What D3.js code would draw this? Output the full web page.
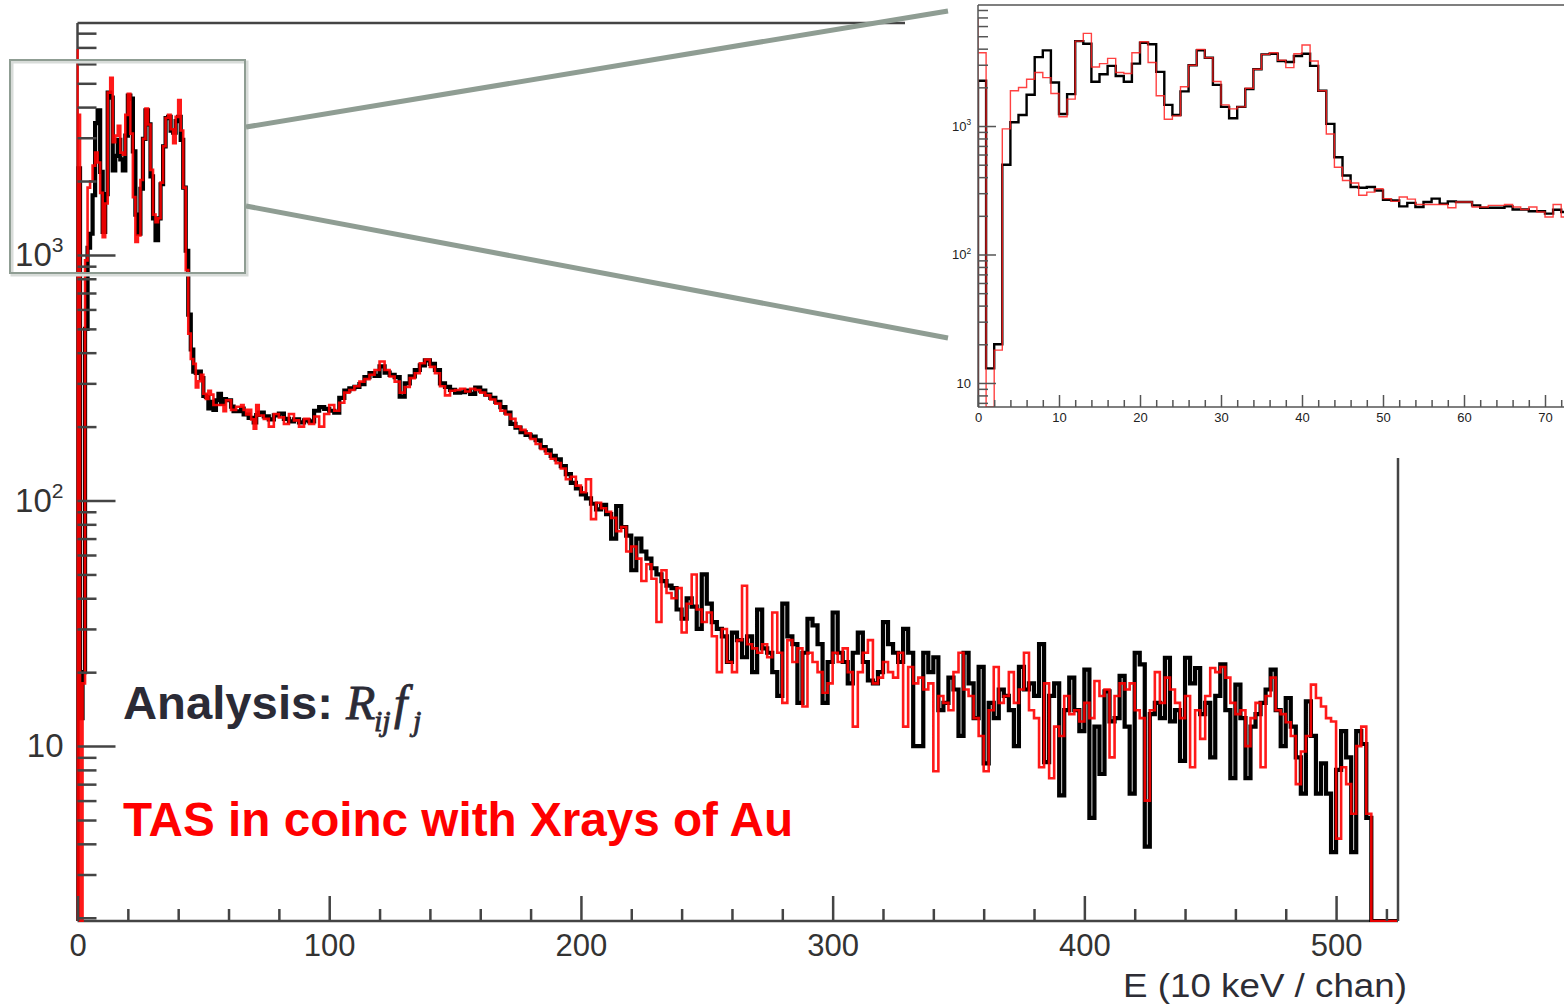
<!DOCTYPE html>
<html>
<head>
<meta charset="utf-8">
<script src="https://cdn.jsdelivr.net/npm/d3@7"></script>
<style>
  body { margin: 0; background: #fff; }
  svg { display: block; font-family: "Liberation Sans", Arial, sans-serif; }
</style>
</head>
<body>
<div id="chart"></div>
<script>
// ---- data (counts per channel) ----
// inset: channels 0..72, one channel per bin
const insetBlack = [2250, 13, 20, 500, 1070, 1220, 1750, 3440, 3880, 2180,
    1240, 1770, 4580, 4370, 2210, 2530, 2940, 2450, 2210, 3060,
    4450, 4330, 2640, 1460, 1220, 1860, 2970, 3880, 3400, 2090,
    1410, 1150, 1410, 1940, 2770, 3610, 3650, 3210, 3150, 3510,
    3650, 2940, 1880, 1040, 571, 412, 335, 331, 335, 315,
    267, 264, 237, 252, 234, 256, 272, 248, 259, 256,
    256, 241, 231, 231, 231, 237, 224, 224, 217, 217,
    208, 223, 214];
const insetRed = [3720, 0, 18, 950, 1880, 1995, 2310, 2610, 2380, 1790,
    1180, 1620, 4580, 5260, 2880, 3060, 3360, 2610, 2560, 3720,
    4530, 3120, 1720, 1130, 1200, 2020, 2970, 3950, 3400, 2220,
    1460, 1360, 1410, 1970, 2770, 3610, 3720, 3250, 2850, 3650,
    4270, 3210, 1880, 867, 478, 377, 360, 289, 306, 325,
    272, 259, 280, 270, 245, 245, 245, 245, 231, 256,
    256, 234, 234, 241, 241, 245, 234, 224, 234, 214,
    196, 245, 196];
const redEdgeSpike = 6900; // narrow red spike right at channel 0

// main spectrum tail: from channel 72, two channels per bin, up to 514
const tailStart = 72;
const tailWidth = 2;
const tailBlack = [228, 220, 214, 222, 226, 215, 210, 214, 208, 212,
    210, 232, 240, 236, 232, 228, 262, 280, 286, 290,
    298, 318, 330, 322, 352, 332, 325, 318, 265, 300,
    320, 340, 355, 372, 360, 340, 300, 290, 282, 275,
    276, 280, 272, 288, 280, 270, 262, 252, 240, 228,
    205, 198, 190, 185, 182, 176, 165, 160, 152, 147,
    138, 128, 118, 112, 106, 102, 97, 92, 96, 88,
    70, 95, 78, 72, 52, 70, 62, 58, 53, 50,
    47, 45, 44, 36, 33, 40, 37, 30, 50, 38,
    32, 30, 28, 22, 29, 27, 23, 28, 20, 36,
    25, 24, 20, 16, 38, 28, 26, 15, 24, 33,
    31, 26, 15, 22, 35, 24, 22, 18, 24, 29,
    22, 18.5, 18, 20, 32, 26, 24, 22, 30, 24,
    10, 10, 24, 20, 23, 14, 15, 19, 17, 11,
    24, 18, 13, 21, 8.5, 15, 13, 17, 16, 14,
    10, 21, 17, 18, 16, 26, 8.6, 16, 18, 6.3,
    14, 19, 14, 11.5, 20.5, 5.1, 12, 7.7, 16.7, 12.6,
    13, 19.3, 12, 6.4, 24, 21.5, 3.9, 13.5, 15, 13,
    22.9, 12.6, 14, 8.7, 22.9, 18, 20.8, 13.5, 15, 9,
    16, 21.5, 14, 7.4, 17.8, 13, 7.4, 12, 13.5, 15,
    17, 20.5, 14, 10, 15.7, 12, 9, 6.4, 15.2, 11,
    6.4, 8.5, 6.4, 3.7, 8, 11.5, 9, 3.7, 11.5, 10.2, 5.1];
const tailRed = [222, 215, 200, 225, 218, 205, 225, 212, 200, 215,
    205, 220, 200, 225, 245, 232, 250, 275, 282, 292,
    305, 312, 325, 340, 368, 340, 320, 305, 275, 290,
    315, 330, 362, 375, 350, 330, 292, 268, 280, 282,
    285, 278, 285, 282, 275, 268, 258, 248, 232, 224,
    215, 200, 194, 188, 178, 170, 162, 155, 148, 142,
    135, 122, 125, 115, 108, 122, 84, 98, 93, 90,
    85, 75, 78, 62, 65, 58, 47, 55, 48, 32,
    52, 42, 40, 44, 29, 38, 50, 36, 32, 35,
    28, 20, 30, 22, 20, 27, 45, 26, 25, 24,
    26, 23, 35, 24, 15, 27, 22, 25, 14.5, 24,
    22, 20, 16.5, 18, 24, 22, 25, 20, 12, 20,
    24, 27, 18, 19, 22, 20, 19, 24, 12, 21,
    18, 19, 17, 18, 7.9, 16, 15, 14, 20, 24,
    17, 16, 13, 11, 7.9, 14, 21, 15, 16, 20,
    15, 17, 24, 14, 13, 8.2, 18, 7.4, 12, 11,
    16, 13.5, 14, 12.6, 15, 13, 18.4, 16, 17, 9,
    16, 18, 17, 18, 14, 13, 6, 14, 20, 15,
    19, 17, 15, 13, 16, 8.2, 14, 10.7, 16, 20.8,
    20, 21, 19, 15, 13.5, 14, 10, 13, 15, 8.2,
    16, 19, 14, 13.5, 12.5, 11, 7, 9.5, 11, 17.8,
    15.7, 14.5, 13, 12.6, 4.2, 8.2, 7, 5.3, 10, 12, 5.3];

const mainXTicks = [0, 100, 200, 300, 400, 500];
const mainYTicks = [10, 100, 1000];
const insetXTicks = [0, 10, 20, 30, 40, 50, 60, 70];
const insetYTicks = [10, 100, 1000];

const xLabel = "E (10 keV / chan)";
const analysisLabel = "Analysis:";
const coincLabel = "TAS in coinc with Xrays of Au";

// ---- layout ----
const W = 1564, H = 1004;
const main = { left: 77.5, right: 1398, top: 23, bottom: 921, xMax: 524.6, yMin: 1.94, yMax: 8800 };
const ins = { left: 978, right: 1569.3, top: 5, bottom: 407, xMax: 73, yMin: 6.5, yMax: 8750 };
const grayLine = "#8f9d93";
const axisColor = "#444";

const svg = d3.select("#chart").append("svg")
    .attr("width", W)
    .attr("height", H);

const x = d3.scaleLinear().domain([0, main.xMax]).range([main.left, main.right]);
const y = d3.scaleLog().domain([main.yMin, main.yMax]).range([main.bottom, main.top]);
const xi = d3.scaleLinear().domain([0, ins.xMax]).range([ins.left, ins.right]);
const yi = d3.scaleLog().domain([ins.yMin, ins.yMax]).range([ins.bottom, ins.top]);

function binsOf(vals, start, width) {
    return vals.map((v, i) => ({ x0: start + i * width, x1: start + (i + 1) * width, v: v }));
}

function histPath(bins, xs, ys, floor, edge) {
    const pts = [[xs(bins[0].x0), ys(floor)]];
    if (edge) pts.push([xs(bins[0].x0), ys(edge)]);
    bins.forEach(b => {
        const yy = ys(Math.max(b.v, floor));
        pts.push([xs(b.x0), yy], [xs(b.x1), yy]);
    });
    pts.push([xs(bins[bins.length - 1].x1), ys(floor)]);
    return d3.line()(pts);
}

function logMinors(lo, hi, majors) {
    const out = [];
    for (let e = 0; e <= 4; e++) {
        for (let d = 1; d <= 9; d++) {
            const v = d * Math.pow(10, e);
            if (v >= lo && v <= hi && majors.indexOf(v) < 0) out.push(v);
        }
    }
    return out;
}

function supLabel(sel, size) {
    sel.each(function(d) {
        const t = d3.select(this);
        t.text("");
        const e = Math.round(Math.log10(d));
        if (e === 1) {
            t.text("10");
        } else {
            t.append("tspan").text("10");
            t.append("tspan").attr("dy", -size * 0.42).attr("font-size", size * 0.64).text(e);
        }
    });
}

// ---- main spectrum ----
const tailEnd = tailStart + tailBlack.length * tailWidth;
const mainBlack = binsOf(insetBlack.slice(0, tailStart), 0, 1)
    .concat(binsOf(tailBlack, tailStart, tailWidth))
    .concat([{ x0: tailEnd, x1: main.xMax, v: 0 }]);
const mainRed = binsOf(insetRed.slice(0, tailStart), 0, 1)
    .concat(binsOf(tailRed, tailStart, tailWidth))
    .concat([{ x0: tailEnd, x1: main.xMax, v: 0 }]);

// frame: left, bottom, top (up to the inset), right (below the inset)
const frame = svg.append("g").attr("stroke", axisColor).attr("stroke-width", 2.5).attr("fill", "none");
frame.append("line").attr("x1", main.left).attr("x2", main.left).attr("y1", main.top).attr("y2", main.bottom);
frame.append("line").attr("x1", main.left).attr("x2", main.right).attr("y1", main.bottom).attr("y2", main.bottom);
frame.append("line").attr("x1", main.left).attr("x2", 905).attr("y1", main.top).attr("y2", main.top);
frame.append("line").attr("x1", main.right).attr("x2", main.right).attr("y1", 458).attr("y2", main.bottom);

svg.append("clipPath").attr("id", "clip-main")
    .append("rect")
    .attr("x", main.left - 1).attr("y", main.top - 2)
    .attr("width", main.right - main.left).attr("height", main.bottom - main.top + 3);

const gMain = svg.append("g").attr("clip-path", "url(#clip-main)");
gMain.append("path")
    .attr("d", histPath(mainBlack, x, y, main.yMin))
    .attr("fill", "none").attr("stroke", "#000").attr("stroke-width", 4.2);
gMain.append("path")
    .attr("d", histPath(mainRed, x, y, main.yMin, redEdgeSpike))
    .attr("fill", "none").attr("stroke", "#ff0000").attr("stroke-width", 2.6)
    .attr("stroke-opacity", 0.9);

// x axis, ticks pointing up
const gx = svg.append("g")
    .attr("transform", "translate(0," + main.bottom + ")")
    .call(d3.axisBottom(x).tickValues(mainXTicks).tickSize(-25).tickPadding(13).tickFormat(d3.format("d")));
gx.select(".domain").remove();
gx.selectAll(".tick line").attr("stroke", axisColor).attr("stroke-width", 2.5);
gx.selectAll(".tick text").attr("font-size", 31).attr("fill", "#333").attr("font-family", "Liberation Sans, Arial, sans-serif");

const gxm = svg.append("g")
    .attr("transform", "translate(0," + main.bottom + ")")
    .call(d3.axisBottom(x).tickValues(d3.range(20, 521, 20).filter(d => d % 100 !== 0)).tickSize(-12).tickFormat(""));
gxm.select(".domain").remove();
gxm.selectAll(".tick line").attr("stroke", axisColor).attr("stroke-width", 2.5);

// y axis, ticks pointing right
const gy = svg.append("g")
    .attr("transform", "translate(" + main.left + ",0)")
    .call(d3.axisLeft(y).tickValues(mainYTicks).tickSize(-38).tickPadding(14));
gy.select(".domain").remove();
gy.selectAll(".tick line").attr("stroke", axisColor).attr("stroke-width", 2.5);
gy.selectAll(".tick text").attr("font-size", 33).attr("fill", "#333").attr("font-family", "Liberation Sans, Arial, sans-serif")
    .call(supLabel, 33);

const gym = svg.append("g")
    .attr("transform", "translate(" + main.left + ",0)")
    .call(d3.axisLeft(y).tickValues(logMinors(main.yMin, main.yMax, mainYTicks)).tickSize(-19).tickFormat(""));
gym.select(".domain").remove();
gym.selectAll(".tick line").attr("stroke", axisColor).attr("stroke-width", 2.5);

svg.append("text")
    .attr("x", 1123).attr("y", 997)
    .attr("font-size", 34).attr("fill", "#2d2d35")
    .attr("textLength", 284).attr("lengthAdjust", "spacingAndGlyphs")
    .text(xLabel);

// ---- inset ----
svg.append("rect")
    .attr("x", 905).attr("y", 0).attr("width", W - 905).attr("height", 458)
    .attr("fill", "#fff");

svg.append("clipPath").attr("id", "clip-inset")
    .append("rect")
    .attr("x", ins.left).attr("y", ins.top)
    .attr("width", W - ins.left).attr("height", ins.bottom - ins.top);

const gIns = svg.append("g").attr("clip-path", "url(#clip-inset)");
gIns.append("path")
    .attr("d", histPath(binsOf(insetBlack, 0, 1), xi, yi, ins.yMin))
    .attr("fill", "none").attr("stroke", "#000").attr("stroke-width", 2.4);
gIns.append("path")
    .attr("d", histPath(binsOf(insetRed, 0, 1), xi, yi, ins.yMin, redEdgeSpike))
    .attr("fill", "none").attr("stroke", "#ff2020").attr("stroke-width", 1.4)
    .attr("stroke-opacity", 0.85);

const iframe = svg.append("g").attr("stroke", "#555").attr("stroke-width", 1.5).attr("fill", "none");
iframe.append("line").attr("x1", ins.left).attr("x2", ins.left).attr("y1", ins.top).attr("y2", ins.bottom);
iframe.append("line").attr("x1", ins.left).attr("x2", W).attr("y1", ins.bottom).attr("y2", ins.bottom);
iframe.append("line").attr("x1", ins.left).attr("x2", W).attr("y1", ins.top).attr("y2", ins.top);

const gix = svg.append("g")
    .attr("transform", "translate(0," + ins.bottom + ")")
    .call(d3.axisBottom(xi).tickValues(insetXTicks).tickSize(-12).tickPadding(6).tickFormat(d3.format("d")));
gix.select(".domain").remove();
gix.selectAll(".tick line").attr("stroke", "#555").attr("stroke-width", 1.5);
gix.selectAll(".tick text").attr("font-size", 13).attr("fill", "#222").attr("font-family", "Liberation Sans, Arial, sans-serif");

const gixm = svg.append("g")
    .attr("transform", "translate(0," + ins.bottom + ")")
    .call(d3.axisBottom(xi).tickValues(d3.range(2, 73, 2).filter(d => d % 10 !== 0)).tickSize(-7).tickFormat(""));
gixm.select(".domain").remove();
gixm.selectAll(".tick line").attr("stroke", "#555").attr("stroke-width", 1.5);

const giy = svg.append("g")
    .attr("transform", "translate(" + ins.left + ",0)")
    .call(d3.axisLeft(yi).tickValues(insetYTicks).tickSize(-18).tickPadding(7));
giy.select(".domain").remove();
giy.selectAll(".tick line").attr("stroke", "#555").attr("stroke-width", 1.5);
giy.selectAll(".tick text").attr("font-size", 13).attr("fill", "#222").attr("font-family", "Liberation Sans, Arial, sans-serif")
    .call(supLabel, 13);

const giym = svg.append("g")
    .attr("transform", "translate(" + ins.left + ",0)")
    .call(d3.axisLeft(yi).tickValues(logMinors(ins.yMin, ins.yMax, insetYTicks)).tickSize(-10).tickFormat(""));
giym.select(".domain").remove();
giym.selectAll(".tick line").attr("stroke", "#555").attr("stroke-width", 1.5);

// ---- zoom box and connectors ----
svg.append("rect")
    .attr("x", 12).attr("y", 62).attr("width", 235).attr("height", 213)
    .attr("fill", "none").attr("stroke", "#d8dcd9").attr("stroke-width", 3);
svg.append("rect")
    .attr("x", 10).attr("y", 60).attr("width", 235).attr("height", 213)
    .attr("fill", "none").attr("stroke", grayLine).attr("stroke-width", 2);
svg.append("line")
    .attr("x1", 246).attr("y1", 127).attr("x2", 948).attr("y2", 11)
    .attr("stroke", grayLine).attr("stroke-width", 5);
svg.append("line")
    .attr("x1", 246).attr("y1", 206).attr("x2", 948).attr("y2", 338)
    .attr("stroke", grayLine).attr("stroke-width", 5);

// ---- annotations ----
svg.append("text")
    .attr("x", 123).attr("y", 719)
    .attr("font-size", 46).attr("font-weight", "bold").attr("fill", "#2b2b36")
    .attr("textLength", 210).attr("lengthAdjust", "spacingAndGlyphs")
    .text(analysisLabel);
const math = svg.append("g").attr("fill", "#2b2b36").attr("stroke", "#2b2b36").attr("stroke-width", 0.8)
    .attr("font-family", "Liberation Serif, Times New Roman, serif").attr("font-style", "italic");
math.append("text").attr("x", 346).attr("y", 719).attr("font-size", 48).text("R");
math.append("text").attr("x", 374).attr("y", 731).attr("font-size", 30).text("ij");
math.append("text").attr("x", 394).attr("y", 719).attr("font-size", 48).text("f");
math.append("text").attr("x", 413).attr("y", 731).attr("font-size", 30).text("j");

svg.append("text")
    .attr("x", 123).attr("y", 836)
    .attr("font-size", 48).attr("font-weight", "bold").attr("fill", "#ff0000")
    .attr("textLength", 670).attr("lengthAdjust", "spacingAndGlyphs")
    .text(coincLabel);
</script>
</body>
</html>
